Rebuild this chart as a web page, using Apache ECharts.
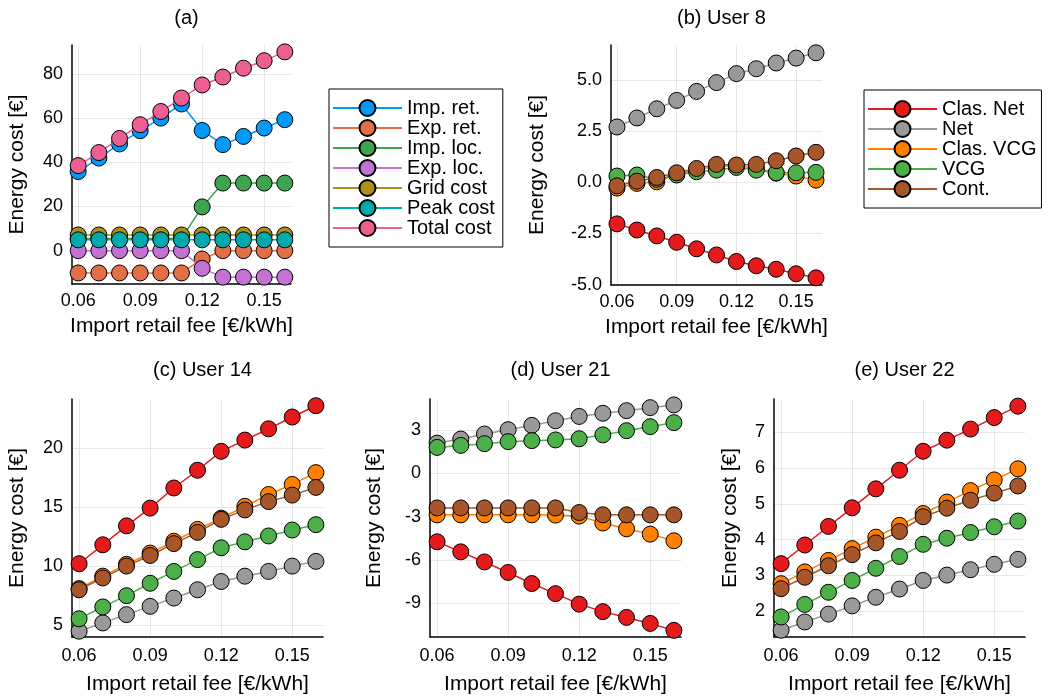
<!DOCTYPE html>
<html>
<head>
<meta charset="utf-8">
<script src="https://cdn.jsdelivr.net/npm/echarts@6/dist/echarts.min.js"></script>
<style>html,body{margin:0;padding:0;background:#fff}#c{width:1053px;height:699px}</style>
</head>
<body>
<div id="c"></div>
<script>
// ---- data ----
const xs = [0.06, 0.07, 0.08, 0.09, 0.10, 0.11, 0.12, 0.13, 0.14, 0.15, 0.16];
const xTicks = [0.06, 0.09, 0.12, 0.15];

// Panel (a)
const aNames = ['Imp. ret.', 'Exp. ret.', 'Imp. loc.', 'Exp. loc.', 'Grid cost', 'Peak cost', 'Total cost'];
const aColors = ['#009AFA', '#E36F47', '#3EA44E', '#C371D2', '#AC8E18', '#00A9AD', '#ED5E93'];
const impRet   = [35.8, 41.9, 48.3, 54.3, 60.0, 66.4, 54.4, 48.0, 51.7, 55.5, 59.3];
const expRet   = [-10.1, -10.1, -10.1, -10.1, -10.1, -10.1, -3.8, 0, 0, 0, 0];
const impLoc   = [5.5, 5.5, 5.5, 5.5, 5.5, 5.5, 19.8, 30.6, 30.6, 30.6, 30.6];
const expLoc   = [0, 0, 0, 0, 0, 0, -8.0, -12.0, -12.0, -12.0, -12.0];
const gridCost = [7.1, 7.1, 7.1, 7.1, 7.1, 7.1, 7.1, 7.1, 7.1, 7.1, 7.1];
const peakCost = [4.9, 4.9, 4.9, 4.9, 4.9, 4.9, 4.9, 4.9, 4.9, 4.9, 4.9];
const totalCost= [38.5, 44.4, 50.8, 57.0, 63.0, 69.1, 75.0, 78.6, 82.6, 86.0, 90.0];
const aTicks = [0, 20, 40, 60, 80];

// Panels (b)-(e)
const uNames = ['Clas. Net', 'Net', 'Clas. VCG', 'VCG', 'Cont.'];
const uColors = ['#E41A1C', '#999999', '#FF7F00', '#4DAF4A', '#A65628'];

// (b) User 8
const u8ClasNet = [-2.03, -2.33, -2.62, -2.93, -3.25, -3.55, -3.87, -4.08, -4.25, -4.47, -4.67];
const u8Net     = [2.71, 3.15, 3.60, 4.01, 4.45, 4.88, 5.32, 5.56, 5.84, 6.08, 6.34];
const u8ClasVCG = [-0.28, -0.05, 0.03, 0.40, 0.60, 0.80, 0.80, 0.70, 0.45, 0.31, 0.11];
const u8VCG     = [0.31, 0.36, 0.15, 0.36, 0.52, 0.60, 0.73, 0.60, 0.47, 0.47, 0.49];
const u8Cont    = [-0.17, 0.06, 0.24, 0.47, 0.68, 0.88, 0.85, 0.88, 1.06, 1.29, 1.47];
const u8Ticks = [-5, -2.5, 0, 2.5, 5];

// (c) User 14
const u14ClasNet = [10.2, 11.8, 13.4, 14.9, 16.6, 18.1, 19.7, 20.65, 21.6, 22.6, 23.55];
const u14Net     = [4.5, 5.2, 5.9, 6.6, 7.3, 8.0, 8.7, 9.15, 9.55, 10.0, 10.4];
const u14ClasVCG = [8.1, 9.15, 10.15, 11.1, 12.1, 13.1, 14.05, 15.05, 16.05, 16.9, 17.9];
const u14VCG     = [5.55, 6.55, 7.5, 8.55, 9.55, 10.55, 11.55, 12.05, 12.55, 13.05, 13.5];
const u14Cont    = [8.0, 9.0, 10.0, 10.9, 11.9, 12.85, 13.95, 14.75, 15.45, 16.0, 16.65];
const u14Ticks = [5, 10, 15, 20];

// (d) User 21
const u21ClasNet = [-4.75, -5.45, -6.15, -6.88, -7.65, -8.35, -9.08, -9.6, -10.0, -10.42, -10.9];
const u21Net     = [2.1, 2.38, 2.73, 3.03, 3.33, 3.65, 3.95, 4.17, 4.35, 4.56, 4.75];
const u21ClasVCG = [-2.88, -2.88, -2.88, -2.88, -2.88, -2.9, -2.97, -3.45, -3.85, -4.22, -4.68];
const u21VCG     = [1.8, 1.94, 2.06, 2.2, 2.27, 2.32, 2.4, 2.67, 2.96, 3.24, 3.52];
const u21Cont    = [-2.4, -2.4, -2.4, -2.4, -2.4, -2.4, -2.72, -2.88, -2.88, -2.88, -2.88];
const u21Ticks = [-9, -6, -3, 0, 3];

// (e) User 22
const u22ClasNet = [3.33, 3.85, 4.37, 4.89, 5.42, 5.94, 6.47, 6.78, 7.09, 7.41, 7.73];
const u22Net     = [1.47, 1.7, 1.92, 2.15, 2.39, 2.62, 2.86, 3.01, 3.16, 3.31, 3.45];
const u22ClasVCG = [2.77, 3.1, 3.42, 3.75, 4.07, 4.4, 4.73, 5.05, 5.37, 5.67, 5.98];
const u22VCG     = [1.84, 2.19, 2.53, 2.86, 3.2, 3.53, 3.87, 4.04, 4.2, 4.36, 4.52];
const u22Cont    = [2.63, 2.95, 3.27, 3.58, 3.91, 4.23, 4.64, 4.88, 5.1, 5.3, 5.5];
const u22Ticks = [2, 3, 4, 5, 6, 7];

// ---- layout ----
const FONT = "'Liberation Sans', Arial, Helvetica, sans-serif";
const panels = [
  { title: '(a)', grid: { left: 72, top: 45, width: 219, height: 239 }, y: [-15.1, 93.1], ticks: aTicks, dec: 0, nameGap: 44,
    names: aNames, colors: aColors, data: [impRet, expRet, impLoc, expLoc, gridCost, peakCost, totalCost] },
  { title: '(b) User 8', grid: { left: 611, top: 45, width: 211, height: 240 }, y: [-5.02, 6.72], ticks: u8Ticks, dec: 1, nameGap: 63,
    names: uNames, colors: uColors, data: [u8ClasNet, u8Net, u8ClasVCG, u8VCG, u8Cont] },
  { title: '(c) User 14', grid: { left: 72, top: 399, width: 251, height: 238 }, y: [4.01, 24.12], ticks: u14Ticks, dec: 0, nameGap: 44,
    names: uNames, colors: uColors, data: [u14ClasNet, u14Net, u14ClasVCG, u14VCG, u14Cont] },
  { title: '(d) User 21', grid: { left: 430, top: 399, width: 251, height: 238 }, y: [-11.36, 5.16], ticks: u21Ticks, dec: 0, nameGap: 45,
    names: uNames, colors: uColors, data: [u21ClasNet, u21Net, u21ClasVCG, u21VCG, u21Cont] },
  { title: '(e) User 22', grid: { left: 774, top: 399, width: 251, height: 238 }, y: [1.28, 7.93], ticks: u22Ticks, dec: 0, nameGap: 33,
    names: uNames, colors: uColors, data: [u22ClasNet, u22Net, u22ClasVCG, u22VCG, u22Cont] }
];

const option = { animation: false, backgroundColor: '#fff', title: [], grid: [], xAxis: [], yAxis: [], series: [], legend: [] };
const splitLine = { show: true, lineStyle: { color: '#e6e6e6', width: 1 } };
const axisLine = { show: true, onZero: false, lineStyle: { color: '#000', width: 1.5 } };

panels.forEach((p, i) => {
  const top = i < 2;
  option.grid.push(Object.assign({ containLabel: false }, p.grid));
  option.title.push({ text: p.title, left: p.grid.left + p.grid.width / 2, top: top ? 3 : 355, textAlign: 'center',
    textStyle: { fontFamily: FONT, fontSize: 20, fontWeight: 'normal', color: '#000' } });
  option.xAxis.push({ type: 'value', gridIndex: i, min: 0.057, max: 0.163,
    name: 'Import retail fee [€/kWh]', nameLocation: 'middle', nameGap: top ? 32 : 37,
    nameTextStyle: { fontFamily: FONT, fontSize: 21, color: '#000' },
    axisLine: axisLine, axisTick: { show: false, customValues: xTicks },
    axisLabel: { customValues: xTicks, fontFamily: FONT, fontSize: 18, color: '#000', margin: top ? 8 : 10, formatter: v => v.toFixed(2) },
    splitLine: splitLine });
  option.yAxis.push({ type: 'value', gridIndex: i, min: p.y[0], max: p.y[1],
    name: 'Energy cost [€]', nameLocation: 'middle', nameGap: p.nameGap,
    nameTextStyle: { fontFamily: FONT, fontSize: 21, color: '#000' },
    axisLine: axisLine, axisTick: { show: false, customValues: p.ticks },
    axisLabel: { customValues: p.ticks, fontFamily: FONT, fontSize: 18, color: '#000', margin: 9, formatter: v => v.toFixed(p.dec) },
    splitLine: splitLine });
  p.data.forEach((vals, k) => {
    option.series.push({
      type: 'line', name: p.names[k], xAxisIndex: i, yAxisIndex: i,
      data: xs.map((x, j) => [x, vals[j]]),
      symbol: 'circle', symbolSize: 16, showAllSymbol: true,
      lineStyle: { color: p.colors[k], width: 1.5 },
      itemStyle: { color: p.colors[k], borderColor: '#000', borderWidth: 1, opacity: 1 },
      emphasis: { disabled: true }, z: 2 + k
    });
  });
});

const legendCommon = {
  orient: 'vertical', borderColor: '#000', borderWidth: 1, itemWidth: 69, itemHeight: 20, itemGap: 0,
  textStyle: { fontFamily: FONT, fontSize: 20, lineHeight: 20, color: '#000' }, selectedMode: false
};
option.legend.push(Object.assign({}, legendCommon, { data: aNames, left: 329, top: 89, padding: [9, 8, 9, 3] }));
option.legend.push(Object.assign({}, legendCommon, { data: uNames, left: 864, top: 90, padding: [9, 5, 9, 3] }));

const chart = echarts.init(document.getElementById('c'), null, { renderer: 'canvas' });
chart.setOption(option);
</script>
</body>
</html>
